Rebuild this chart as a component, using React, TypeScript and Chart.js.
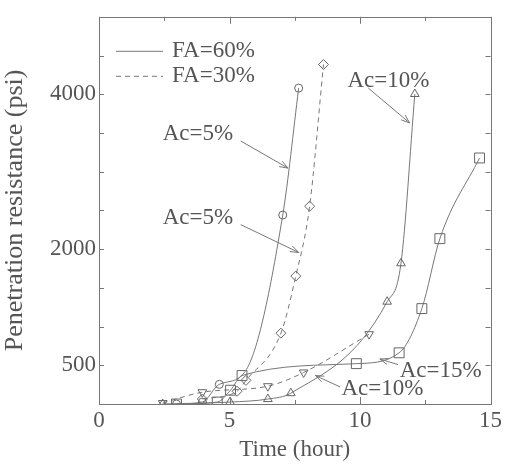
import React, { useEffect, useRef } from "react";
import { Chart, registerables } from "chart.js";

Chart.register(...registerables);

// ---- data (time in hours, penetration resistance in psi) ----
const xLabeledTicks = [0, 5, 10, 15];
const yLabeledTicks = [500, 2000, 4000];

// FA=60%, Ac=5% (solid, circles)
const fa60Ac5Time = [2.97, 3.96, 4.61, 5.6, 7.04, 7.65];
const fa60Ac5Psi = [0, 25, 254, 420, 2440, 4079];
const fa60Ac5Marker = [4, 4, 4, 0, 4, 4];

// FA=30%, Ac=5% (dashed, diamonds)
const fa30Ac5Time = [3.96, 5.29, 5.63, 6.97, 7.54, 8.07, 8.6];
const fa30Ac5Psi = [64, 165, 305, 915, 1652, 2554, 4384];

// FA=60%, Ac=10% (solid, triangles)
const fa60Ac10Time = [2.44, 5.02, 6.47, 7.35, 11.04, 11.57, 12.1];
const fa60Ac10Psi = [0, 25, 64, 140, 1321, 1817, 4003];

// FA=30%, Ac=10% (dashed, inverted triangles)
const fa30Ac10Time = [2.44, 3.96, 6.47, 7.84, 10.35];
const fa30Ac10Psi = [13, 152, 230, 407, 902];

// FA=60%, Ac=15% (solid, squares)
const fa60Ac15Time = [2.97, 4.53, 5.04, 5.48, 9.86, 11.5, 12.37, 13.06, 14.58];
const fa60Ac15Psi = [0, 25, 178, 368, 521, 661, 1232, 2135, 3177];

// annotation labels (text anchor + arrow, in data units)
const noteText = ["Ac=5%", "Ac=5%", "Ac=10%", "Ac=15%", "Ac=10%"];
const noteTextX = [2.44, 2.44, 9.52, 11.52, 9.29];
const noteTextY = [3482, 2402, 4168, 432, 191];
const noteFromX = [5.43, 5.43, 10.32, 11.46, 9.24];
const noteFromY = [3396, 2316, 4079, 508, 220];
const noteToX = [7.24, 7.65, 11.9, 10.76, 8.29];
const noteToY = [3046, 1957, 3630, 581, 368];

const legendLabels = ["FA=60%", "FA=30%"];

const INK = "#555";
const LINE = "#777";
const FONT = "'Liberation Serif', 'DejaVu Serif', serif";

function pts(xs: number[], ys: number[]) {
  return xs.map((x, i) => ({ x, y: ys[i] }));
}

const decorPlugin = {
  id: "decor",
  afterDraw(chart: any) {
    const { ctx, chartArea: a, scales } = chart;
    const x = scales.x;
    const y = scales.y;
    ctx.save();
    ctx.strokeStyle = LINE;
    ctx.lineWidth = 1;
    ctx.setLineDash([]);
    // frame
    ctx.strokeRect(Math.round(a.left) + 0.5, Math.round(a.top) + 0.5, Math.round(a.right - a.left), Math.round(a.bottom - a.top));
    // inward ticks
    ctx.beginPath();
    x.ticks.forEach((t: any) => {
      const px = Math.round(x.getPixelForValue(t.value)) + 0.5;
      const len = xLabeledTicks.includes(t.value) ? 7 : 4;
      ctx.moveTo(px, a.bottom);
      ctx.lineTo(px, a.bottom - len);
      ctx.moveTo(px, a.top);
      ctx.lineTo(px, a.top + len);
    });
    y.ticks.forEach((t: any) => {
      const py = Math.round(y.getPixelForValue(t.value)) + 0.5;
      const len = 5;
      ctx.moveTo(a.left, py);
      ctx.lineTo(a.left + len, py);
      ctx.moveTo(a.right, py);
      ctx.lineTo(a.right - len, py);
    });
    ctx.stroke();

    // annotations
    ctx.fillStyle = INK;
    ctx.font = `23px ${FONT}`;
    ctx.textAlign = "left";
    ctx.textBaseline = "middle";
    noteText.forEach((txt, i) => {
      ctx.fillText(txt, x.getPixelForValue(noteTextX[i]), y.getPixelForValue(noteTextY[i]));
      const x1 = x.getPixelForValue(noteFromX[i]);
      const y1 = y.getPixelForValue(noteFromY[i]);
      const x2 = x.getPixelForValue(noteToX[i]);
      const y2 = y.getPixelForValue(noteToY[i]);
      ctx.beginPath();
      ctx.moveTo(x1, y1);
      ctx.lineTo(x2, y2);
      const ang = Math.atan2(y2 - y1, x2 - x1);
      const h = 9;
      ctx.moveTo(x2 - h * Math.cos(ang - 0.35), y2 - h * Math.sin(ang - 0.35));
      ctx.lineTo(x2, y2);
      ctx.lineTo(x2 - h * Math.cos(ang + 0.35), y2 - h * Math.sin(ang + 0.35));
      ctx.stroke();
    });

    // legend
    const lx0 = a.left + 17;
    const lx1 = a.left + 64;
    const ly = [a.top + 34, a.top + 59];
    legendLabels.forEach((lab, i) => {
      ctx.beginPath();
      ctx.setLineDash(i === 0 ? [] : [5, 4]);
      ctx.moveTo(lx0, ly[i] + 0.5);
      ctx.lineTo(lx1, ly[i] + 0.5);
      ctx.stroke();
      ctx.setLineDash([]);
      ctx.fillText(lab, a.left + 73, ly[i]);
    });
    ctx.restore();
  },
};

function ds(label: string, xs: number[], ys: number[], dashed: boolean, style: string, radius: any, rotation = 0) {
  return {
    label,
    data: pts(xs, ys),
    showLine: true,
    borderColor: LINE,
    borderWidth: 1,
    borderDash: dashed ? [5, 4] : [],
    cubicInterpolationMode: "monotone" as const,
    pointStyle: style,
    pointRotation: rotation,
    pointRadius: radius,
    pointBorderColor: "#666",
    pointBackgroundColor: "rgba(0,0,0,0)",
    pointBorderWidth: 1,
  };
}

export default function App() {
  const ref = useRef<HTMLCanvasElement | null>(null);
  useEffect(() => {
    if (!ref.current) return;
    const chart = new Chart(ref.current, {
      type: "line",
      data: {
        datasets: [
          ds("FA=60% Ac=5%", fa60Ac5Time, fa60Ac5Psi, false, "circle", fa60Ac5Marker),
          ds("FA=30% Ac=5%", fa30Ac5Time, fa30Ac5Psi, true, "rectRot", 5),
          ds("FA=60% Ac=10%", fa60Ac10Time, fa60Ac10Psi, false, "triangle", 5),
          ds("FA=30% Ac=10%", fa30Ac10Time, fa30Ac10Psi, true, "triangle", 5, 180),
          ds("FA=60% Ac=15%", fa60Ac15Time, fa60Ac15Psi, false, "rect", 7),
        ] as any,
      },
      options: {
        animation: false,
        responsive: false,
        devicePixelRatio: 1,
        layout: { padding: { left: 0, top: 13, right: 11, bottom: 0 } },
        plugins: { legend: { display: false }, tooltip: { enabled: false } },
        scales: {
          x: {
            type: "linear",
            min: 0,
            max: 15,
            border: { display: false },
            grid: { display: false, drawTicks: false },
            ticks: {
              stepSize: 2.5,
              autoSkip: false,
              maxRotation: 0,
              padding: 3,
              color: INK,
              font: { family: FONT, size: 23 },
              callback: (v: any) => (xLabeledTicks.includes(Number(v)) ? String(v) : ""),
            },
            title: {
              display: true,
              text: "Time (hour)",
              color: INK,
              font: { family: FONT, size: 23 },
              padding: { top: 0, bottom: 2 },
            },
            afterFit: (s: any) => {
              s.height = 62;
            },
          },
          y: {
            type: "linear",
            min: 0,
            max: 5000,
            border: { display: false },
            grid: { display: false, drawTicks: false },
            ticks: {
              stepSize: 500,
              autoSkip: false,
              padding: 3,
              color: INK,
              font: { family: FONT, size: 23 },
              callback: (v: any) => (yLabeledTicks.includes(Number(v)) ? String(v) : ""),
            },
            title: {
              display: true,
              text: "Penetration resistance (psi)",
              color: INK,
              font: { family: FONT, size: 26 },
              padding: { top: 0, bottom: 0 },
            },
            afterFit: (s: any) => {
              s.width = 99;
            },
          },
        },
      },
      plugins: [decorPlugin],
    });
    return () => chart.destroy();
  }, []);
  return (
    <div style={{ position: "fixed", left: 0, top: 0, width: 505, height: 466, background: "#fff" }}>
      <canvas ref={ref} width={505} height={466} style={{ display: "block" }} />
    </div>
  );
}
